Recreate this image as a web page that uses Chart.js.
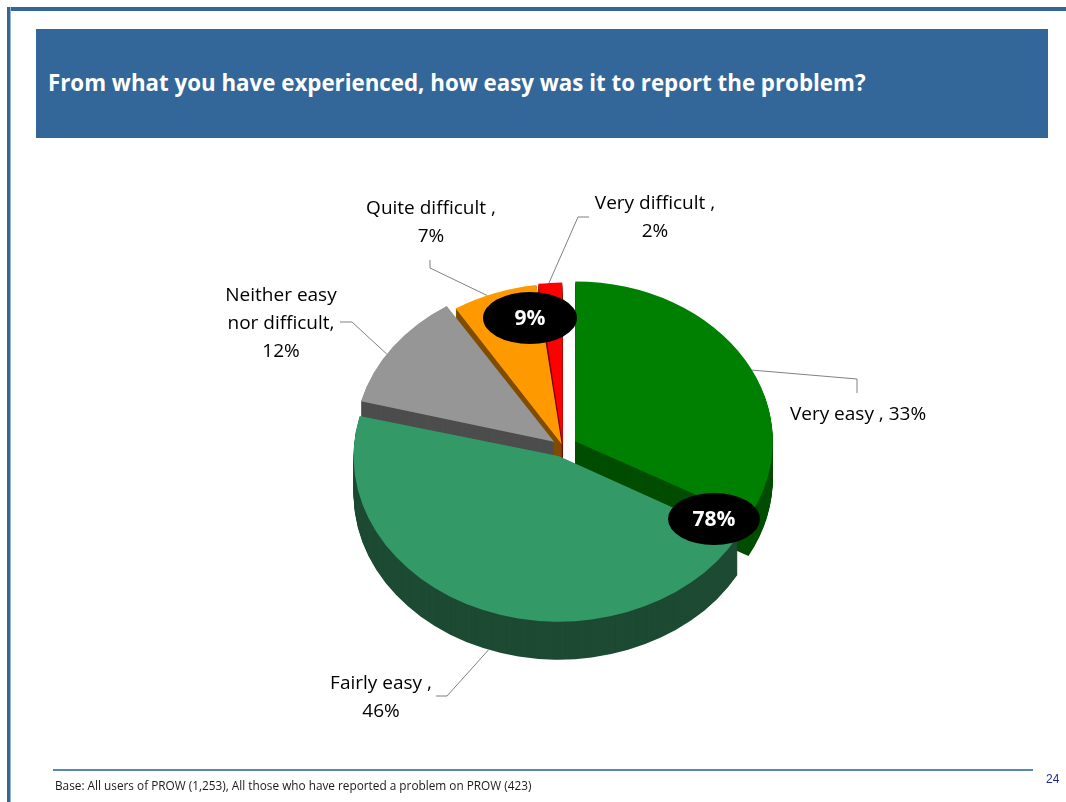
<!DOCTYPE html>
<html>
<head>
<meta charset="utf-8">
<title>Ease of reporting a problem</title>
<script src="https://cdn.jsdelivr.net/npm/chart.js@4.4.1/dist/chart.umd.min.js"></script>
<style>
  html, body { margin: 0; padding: 0; background: #fff; }
  #slide { position: relative; width: 1066px; height: 802px; overflow: hidden; font-family: "Open Sans", Lato, sans-serif; }
  .frame-top { position: absolute; left: 7px; top: 7px; width: 1059px; height: 4px; background: #336699; }
  .frame-left { position: absolute; left: 7px; top: 7px; width: 3px; height: 795px; background: #336699; border-right: 1px solid #9ab3cf; }
  .title-bar { position: absolute; left: 36px; top: 29px; width: 1012px; height: 109px; background: #336699; }
  .title-bar h1 { margin: 0; position: absolute; left: 12px; top: 39px; font-size: 22.3px; line-height: 30px; font-weight: 700; color: #fff; white-space: nowrap; }
  .foot-line { position: absolute; left: 53px; top: 769px; width: 980px; height: 2px; background: #5b87b8; }
  .foot-note { position: absolute; left: 55px; top: 777px; font-size: 11.8px; color: #1a1a1a; white-space: nowrap; }
  .page-no { position: absolute; left: 1046px; top: 772px; font-family: "Liberation Sans", Arial, sans-serif; font-size: 12px; color: #1f2a8f; }
  #chartPie { position: absolute; left: 0; top: 0; }
</style>
</head>
<body>
<div id="slide">
  <div class="frame-top"></div>
  <div class="frame-left"></div>
  <div class="title-bar"><h1>From what you have experienced, how easy was it to report the problem?</h1></div>
  <canvas id="chartPie" width="1066" height="802"></canvas>
  <div class="foot-line"></div>
  <div class="foot-note">Base: All users of PROW (1,253), All those who have reported a problem on PROW (423)</div>
  <div class="page-no">24</div>
</div>

<script>
const categories = ['Very easy', 'Fairly easy', 'Neither easy nor difficult', 'Quite difficult', 'Very difficult'];
const values = [33, 46, 12, 7, 2];
const topColors = ['#008000', '#339966', '#969696', '#ff9900', '#ff0000'];
const sideColors = ['#004d00', '#1d4a33', '#4d4d4d', '#804d00', '#800000'];
const explode = [56, 48, 44, 16, 16];

// combined totals shown in the black bubbles
const groupLabels = ['78%', '9%'];

const tilt = 0.808;   // vertical squash of the pie top
const depth = 38;     // height of the side wall in px

// where each slice label sits; value text is built from the data
const labelLayout = [
    { frac: 0.535, wall: 0,     split: 2, sep: ' , ', oneLine: true,  x: 858, y: 415, elbow: [[857, 379], [857, 393]] },
    { frac: 0.49,  wall: depth, split: 2, sep: ' ,',  oneLine: false, x: 381, y: 684, elbow: [[447, 696], [436, 696]] },
    { frac: 0.43,  wall: 0,     split: 2, sep: ',',   oneLine: false, x: 281, y: 296, elbow: [[352, 322], [340, 322]] },
    { frac: 0.41,  wall: 0,     split: 2, sep: ' ,',  oneLine: false, x: 431, y: 209, elbow: [[430, 268], [430, 260]] },
    { frac: 0.45,  wall: 0,     split: 2, sep: ' ,',  oneLine: false, x: 655, y: 204, elbow: [[578, 217], [589, 217]] }
];
const bubbleLayout = [
    { x: 714, y: 519, rx: 46, ry: 26 },
    { x: 530, y: 318, rx: 47, ry: 26 }
];

const labelFont = '19px "Open Sans", Lato, sans-serif';
const lineGap = 28;

function labelLines(i) {
    const l = labelLayout[i];
    const words = categories[i].split(' ');
    const pct = values[i] + '%';
    if (l.oneLine) return [categories[i] + l.sep + pct];
    if (words.length > l.split) {
        return [words.slice(0, l.split).join(' '), words.slice(l.split).join(' ') + l.sep.trim(), pct];
    }
    return [categories[i] + l.sep, pct];
}

// screen point on the rim of a slice, following the same offset rule as ArcElement.draw
function rimPoint(arc, frac, wall) {
    const cx = arc.x, cy = arc.y;
    const sweep = arc.endAngle - arc.startAngle;
    const half = (arc.startAngle + arc.endAngle) / 2;
    const off = (arc.options.offset || 0) / 4;
    const r = arc.outerRadius + off * (1 - Math.sin(Math.min(Math.PI, sweep)));
    const a = arc.startAngle + sweep * frac;
    const px = cx + Math.cos(half) * off + Math.cos(a) * r;
    const py = cy + (Math.sin(half) * off + Math.sin(a) * r) * tilt + wall;
    return [px, py];
}

const pie3d = {
    id: 'pie3d',
    beforeDatasetsDraw(chart) {
        const ctx = chart.ctx;
        const arcs = chart.getDatasetMeta(0).data;
        const { x, y } = arcs[0];
        ctx.save();
        ctx.translate(x, y);
        ctx.scale(1, tilt);
        ctx.translate(-x, -y);
        // stack the side wall one pixel at a time, bottom layer first
        for (let d = depth; d > 0; d--) {
            arcs.forEach((arc, i) => {
                const side = Object.create(arc);
                side.options = Object.assign({}, arc.options, { backgroundColor: sideColors[i] });
                ctx.save();
                ctx.translate(0, d / tilt);
                side.draw(ctx);
                ctx.restore();
            });
        }
    },
    afterDatasetsDraw(chart) {
        chart.ctx.restore();
    },
    afterDraw(chart) {
        const ctx = chart.ctx;
        const arcs = chart.getDatasetMeta(0).data;
        ctx.save();

        // leader lines
        ctx.strokeStyle = '#808080';
        ctx.lineWidth = 1;
        arcs.forEach((arc, i) => {
            const l = labelLayout[i];
            const [sx, sy] = rimPoint(arc, l.frac, l.wall);
            ctx.beginPath();
            ctx.moveTo(sx, sy);
            l.elbow.forEach(p => ctx.lineTo(p[0], p[1]));
            ctx.stroke();
        });

        // slice labels
        ctx.fillStyle = '#000';
        ctx.font = labelFont;
        ctx.textAlign = 'center';
        ctx.textBaseline = 'middle';
        arcs.forEach((arc, i) => {
            const l = labelLayout[i];
            labelLines(i).forEach((t, k) => ctx.fillText(t, l.x, l.y + k * lineGap));
        });

        // group totals
        groupLabels.forEach((t, k) => {
            const b = bubbleLayout[k];
            ctx.fillStyle = '#000';
            ctx.beginPath();
            ctx.ellipse(b.x, b.y, b.rx, b.ry, 0, 0, Math.PI * 2);
            ctx.fill();
            ctx.fillStyle = '#fff';
            ctx.font = 'bold 21px "Open Sans", Lato, sans-serif';
            ctx.fillText(t, b.x, b.y + 1);
        });
        ctx.restore();
    }
};

const chart = new Chart(document.getElementById('chartPie'), {
    type: 'pie',
    data: {
        labels: categories,
        datasets: [{
            data: values,
            backgroundColor: topColors,
            borderWidth: 0,
            offset: explode
        }]
    },
    options: {
        responsive: false,
        animation: false,
        events: [],
        radius: 196,
        layout: { padding: { left: 60, right: 0, top: 150, bottom: 58 } },
        plugins: {
            legend: { display: false },
            tooltip: { enabled: false }
        }
    },
    plugins: [pie3d]
});
</script>
</body>
</html>
